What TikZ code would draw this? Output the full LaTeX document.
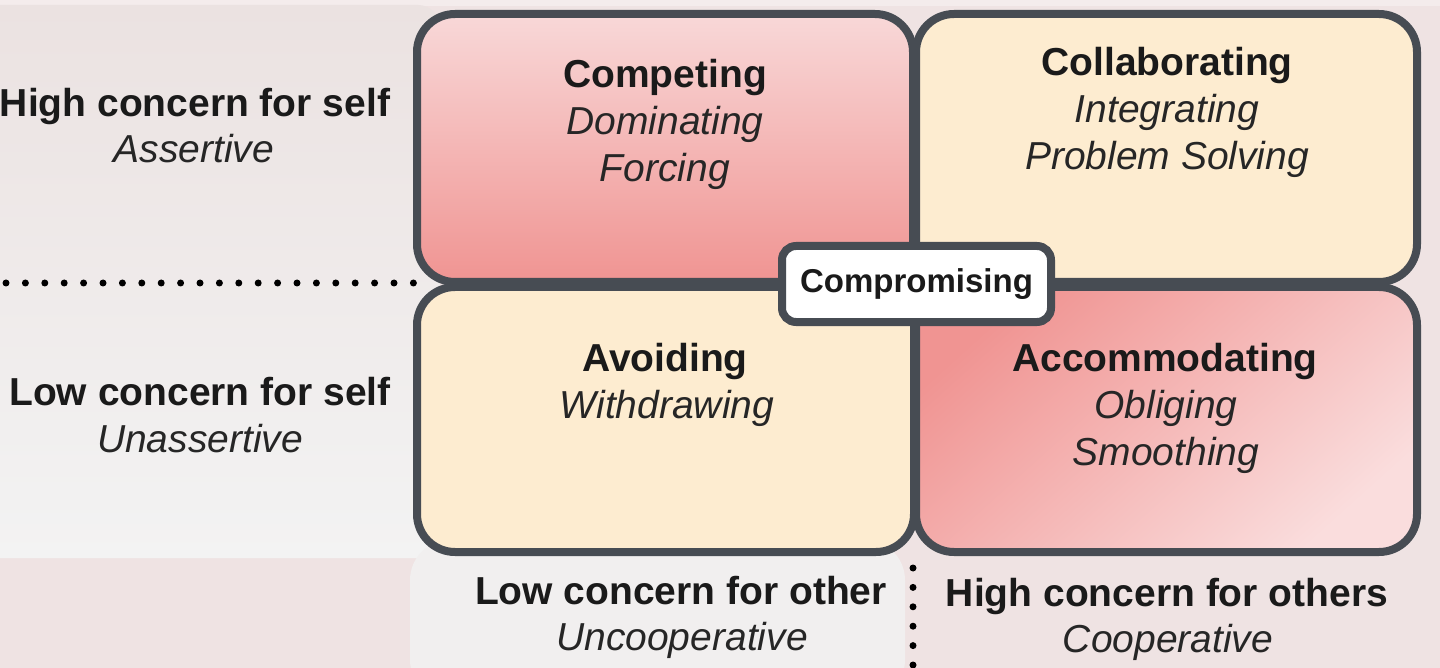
\documentclass[tikz,border=0pt]{standalone}
\usepackage{fontspec}
\setmainfont{Liberation Sans}
\definecolor{bgpink}{HTML}{EFE3E3}
\definecolor{paneltop}{HTML}{EBE2E1}
\definecolor{panelbot}{HTML}{F3F3F3}
\definecolor{panelb}{HTML}{F1EFEF}
\definecolor{edge}{HTML}{474C53}
\definecolor{redlight}{HTML}{F8D8D8}
\definecolor{reddark}{HTML}{F09492}
\definecolor{redpale}{HTML}{FADDDD}
\definecolor{cream}{HTML}{FDECD0}
\definecolor{ink}{HTML}{1A1A1A}
\definecolor{inksub}{HTML}{262626}
\tikzset{
  quad/.style={draw=edge, line width=8pt, rounded corners=38pt, inner sep=0pt, outer sep=0pt},
  ttl/.style={anchor=base, inner sep=0pt, text=ink, font=\fontsize{39}{47}\selectfont\bfseries},
  sub/.style={anchor=base, inner sep=0pt, text=inksub, font=\fontsize{39}{47}\selectfont\itshape},
  dotline/.style={line width=7pt, line cap=round, dash pattern=on 0pt off 19.4pt, draw=black},
  compbox/.style={draw=edge, fill=white, line width=8pt, rounded corners=14pt, inner sep=0pt,
    minimum width=269pt, minimum height=76pt, text=ink, font=\fontsize{33}{38}\selectfont\bfseries}
}
\begin{document}
\begin{tikzpicture}[x=1pt, y=-1pt]
\useasboundingbox (0,0) rectangle (1440,668);
% background
\fill[bgpink] (0,0) rectangle (1440,668);
\fill[white, opacity=0.35] (0,0) rectangle (1440,6);
\shade[top color=paneltop, bottom color=panelbot, rounded corners=22pt] (-40,5) rectangle (440,558);
\fill[panelb, rounded corners=40pt] (410,540) rectangle (905,700);
% dotted guides
\coordinate (hl) at (6,283);
\coordinate (hr) at (420,283);
\coordinate (vt) at (913,568);
\coordinate (vb) at (913,680);
\draw[dotline] (hl) -- (hr);
\draw[dotline] (vt) -- (vb);
% quadrants
\node[quad, top color=redlight, bottom color=reddark, minimum width=496pt, minimum height=268pt] (comp) at (665,148) {};
\node[quad, fill=cream, minimum width=501pt, minimum height=268pt] (coll) at (1166.5,148) {};
\node[quad, fill=cream, minimum width=497pt, minimum height=265pt] (avoid) at (665.5,419.5) {};
\node[quad, top color=reddark, bottom color=redpale, shading angle=42, minimum width=501pt, minimum height=265pt] (acc) at (1166.5,419.5) {};
\node[compbox] (compr) at (916.5,284) {Compromising};
% quadrant texts
\node[ttl] (t1) at (665,88) {Competing};
\node[sub] (t1a) at (665,135) {Dominating};
\node[sub] (t1b) at (665,182) {Forcing};
\node[ttl] (t2) at (1167,76) {Collaborating};
\node[sub] (t2a) at (1167,123) {Integrating};
\node[sub] (t2b) at (1167,170) {Problem Solving};
\node[ttl] (t3) at (665,371) {Avoiding};
\node[sub] (t3a) at (667,418) {Withdrawing};
\node[ttl] (t4) at (1165,371) {Accommodating};
\node[sub] (t4a) at (1166,418) {Obliging};
\node[sub] (t4b) at (1166,465) {Smoothing};
% axis labels
\node[ttl] (l1) at (195,117) {High concern for self};
\node[sub] (l1a) at (194,163) {Assertive};
\node[ttl] (l2) at (200,405) {Low concern for self};
\node[sub] (l2a) at (200,452) {Unassertive};
\node[ttl] (b1) at (681,604) {Low concern for other};
\node[sub] (b1a) at (682,650) {Uncooperative};
\node[ttl] (b2) at (1167,606) {High concern for others};
\node[sub] (b2a) at (1168,652) {Cooperative};
\end{tikzpicture}
\end{document}
